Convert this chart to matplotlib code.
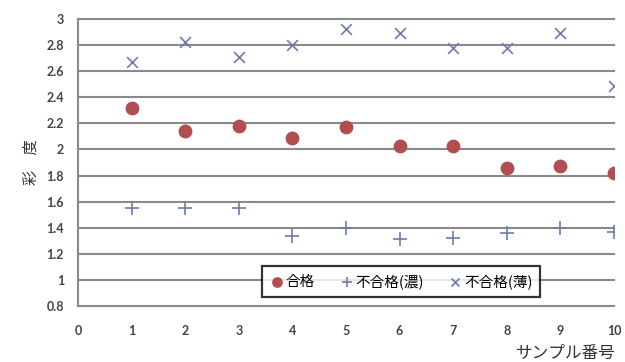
import matplotlib
matplotlib.use("Agg")
import matplotlib.pyplot as plt
import numpy as np

plt.rcParams['font.family'] = ['Lato', 'Noto Sans CJK JP', 'DejaVu Sans']

samples = [1, 2, 3, 4, 5, 6, 7, 8, 9, 10]
pass_vals = [2.32, 2.14, 2.18, 2.09, 2.17, 2.03, 2.03, 1.86, 1.87, 1.82]
fail_dark = [1.55, 1.55, 1.55, 1.34, 1.40, 1.31, 1.32, 1.36, 1.40, 1.37]
fail_light = [2.67, 2.82, 2.71, 2.80, 2.92, 2.89, 2.78, 2.78, 2.89, 2.49]
labels = ['合格', '不合格(濃)', '不合格(薄)']
yticks = [0.8, 1, 1.2, 1.4, 1.6, 1.8, 2, 2.2, 2.4, 2.6, 2.8, 3]
xticks = [0, 1, 2, 3, 4, 5, 6, 7, 8, 9, 10]

fig = plt.figure(figsize=(6.25, 3.62), dpi=100)
ax = fig.add_axes([0.1248, 0.1547, 0.8576, 0.7928])

red = '#b04e50'
blue = '#6e7cae'
ax.scatter(samples, pass_vals, marker='o', s=80, color=red, label=labels[0], zorder=3)
ax.scatter(samples, fail_dark, marker='+', s=110, color=blue, linewidths=1.2, label=labels[1], zorder=3)
ax.scatter(samples, fail_light, marker='x', s=60, color=blue, linewidths=1.2, label=labels[2], zorder=3)

ax.set_xlim(0, 10)
ax.set_ylim(0.8, 3)
ax.set_xticks(xticks)
ax.set_xticklabels([str(x) for x in xticks])
ax.set_yticks(yticks)
ax.set_yticklabels(['0.8', '1', '1.2', '1.4', '1.6', '1.8', '2', '2.2', '2.4', '2.6', '2.8', '3'])
ax.tick_params(axis='both', length=0, labelsize=9, colors='#444444')
ax.tick_params(axis='x', pad=14)
ax.tick_params(axis='y', pad=10)
for lab in ax.get_xticklabels() + ax.get_yticklabels():
    lab.set_fontweight('bold')

for y in yticks:
    ax.axhline(y, color='#8a8a8a', lw=1.5, zorder=1, clip_on=False)
for s in ['top', 'right', 'bottom']:
    ax.spines[s].set_visible(False)
ax.spines['left'].set_color('#8a8a8a')
ax.spines['left'].set_linewidth(1.5)

ax.set_ylabel('彩　度', fontsize=11, color='#333333', labelpad=5,
              family=['Noto Sans CJK JP', 'DejaVu Sans'])
fig.text(0.985, 0.0, 'サンプル番号', ha='right', va='bottom', fontsize=12, color='#333333',
         family=['Noto Sans CJK JP', 'DejaVu Sans'])

leg = ax.legend(loc='lower left', bbox_to_anchor=(0.343, 0.031), borderaxespad=0,
                ncol=3, frameon=True,
                fancybox=False, edgecolor='black', handletextpad=0.1,
                columnspacing=1.65, borderpad=0.55, handlelength=1.0, markerscale=0.75,
                prop={'family': ['Noto Sans CJK JP', 'DejaVu Sans'], 'size': 10.5})
leg.get_frame().set_linewidth(1.6)
leg.set_zorder(5)

fig.savefig('out.png', dpi=100)
